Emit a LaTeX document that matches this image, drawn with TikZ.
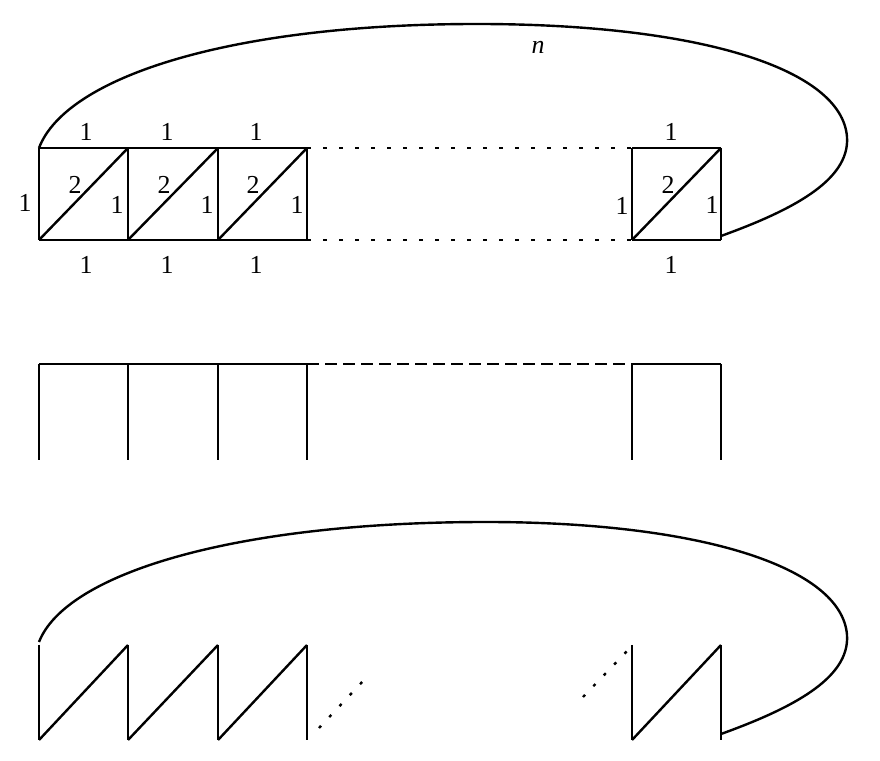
\documentclass[tikz,border=0pt]{standalone}
\usepackage{fontspec}
\setmainfont{Liberation Serif}
\begin{document}
\begin{tikzpicture}[line width=1.2bp,
  lbl/.style={inner sep=0pt,font=\fontsize{13}{15}\selectfont},
  dotrow/.style={dash pattern=on 2bp off 6bp},
  dashrow/.style={dash pattern=on 6bp off 3bp},
  dotdiag/.style={dash pattern=on 1.5bp off 6bp}]
  \useasboundingbox (0bp,0bp) rectangle (440bp,380.5bp);
  \coordinate (T0) at (19.5bp,306.5bp);
  \coordinate (T1) at (64bp,306.5bp);
  \coordinate (T2) at (109bp,306.5bp);
  \coordinate (T3) at (153.5bp,306.5bp);
  \coordinate (T4) at (316bp,306.5bp);
  \coordinate (T5) at (360.5bp,306.5bp);
  \coordinate (B0) at (19.5bp,260.5bp);
  \coordinate (B1) at (64bp,260.5bp);
  \coordinate (B2) at (109bp,260.5bp);
  \coordinate (B3) at (153.5bp,260.5bp);
  \coordinate (B4) at (316bp,260.5bp);
  \coordinate (B5) at (360.5bp,260.5bp);
  \coordinate (Bend) at (360.5bp,262.5bp);
  \coordinate (M0) at (19.5bp,198.5bp);
  \coordinate (M1) at (64bp,198.5bp);
  \coordinate (M2) at (109bp,198.5bp);
  \coordinate (M3) at (153.5bp,198.5bp);
  \coordinate (M4) at (316bp,198.5bp);
  \coordinate (M5) at (360.5bp,198.5bp);
  \coordinate (N0) at (19.5bp,150.5bp);
  \coordinate (N1) at (64bp,150.5bp);
  \coordinate (N2) at (109bp,150.5bp);
  \coordinate (N3) at (153.5bp,150.5bp);
  \coordinate (N4) at (316bp,150.5bp);
  \coordinate (N5) at (360.5bp,150.5bp);
  \coordinate (U0) at (19.5bp,58bp);
  \coordinate (U1) at (64bp,58bp);
  \coordinate (U2) at (109bp,58bp);
  \coordinate (U3) at (153.5bp,58bp);
  \coordinate (U4) at (316bp,58bp);
  \coordinate (U5) at (360.5bp,58bp);
  \coordinate (L0) at (19.5bp,10.5bp);
  \coordinate (L1) at (64bp,10.5bp);
  \coordinate (L2) at (109bp,10.5bp);
  \coordinate (L3) at (153.5bp,10.5bp);
  \coordinate (L4) at (316bp,10.5bp);
  \coordinate (L5) at (360.5bp,10.5bp);
  \coordinate (Ustart) at (19.5bp,59.5bp);
  \coordinate (Lend) at (360.5bp,13.5bp);
  \coordinate (D1) at (159.5bp,16.5bp);
  \coordinate (D2) at (182bp,40.5bp);
  \coordinate (D3) at (291.5bp,32bp);
  \coordinate (D4) at (314.5bp,56bp);
  \draw (T0) -- (T3);
  \draw (T4) -- (T5);
  \draw (B0) -- (B3);
  \draw (B4) -- (B5);
  \draw [dotrow] (T3) -- (T4);
  \draw [dotrow] (B3) -- (B4);
  \draw (T0) -- (B0);
  \draw (T1) -- (B1);
  \draw (T2) -- (B2);
  \draw (T3) -- (B3);
  \draw (T4) -- (B4);
  \draw (T5) -- (B5);
  \draw (B0) -- (T1);
  \draw (B1) -- (T2);
  \draw (B2) -- (T3);
  \draw (B4) -- (T5);
  \draw (T0) ..controls (33bp,342bp) and (115bp,368.5bp) .. (238.5bp,368.5bp) .. controls (350bp,368.5bp) and (421bp,346bp) .. (423.5bp,312bp) .. controls (425bp,290bp) and (395bp,275bp) .. (Bend);
  \node (n) at (269bp,357bp) [lbl] {\textit{n}};
  \node (t1) at (43bp,314.5bp) [lbl] {1};
  \node (t2) at (83.5bp,314.5bp) [lbl] {1};
  \node (t3) at (128bp,314.5bp) [lbl] {1};
  \node (t4) at (335.5bp,314.5bp) [lbl] {1};
  \node (b1) at (43bp,248bp) [lbl] {1};
  \node (b2) at (83.5bp,248bp) [lbl] {1};
  \node (b3) at (128bp,248bp) [lbl] {1};
  \node (b4) at (335.5bp,248bp) [lbl] {1};
  \node (s0) at (12.5bp,279bp) [lbl] {1};
  \node (s1) at (58.5bp,278bp) [lbl] {1};
  \node (s2) at (103.5bp,278bp) [lbl] {1};
  \node (s3) at (148.5bp,278bp) [lbl] {1};
  \node (s4) at (311bp,277.5bp) [lbl] {1};
  \node (s5) at (356bp,278bp) [lbl] {1};
  \node (d1) at (37.5bp,288bp) [lbl] {2};
  \node (d2) at (82bp,288bp) [lbl] {2};
  \node (d3) at (126.5bp,288bp) [lbl] {2};
  \node (d4) at (334bp,288bp) [lbl] {2};
  \draw (M0) -- (M3);
  \draw [dashrow] (M3) -- (M4);
  \draw (M4) -- (M5);
  \draw (M0) -- (N0);
  \draw (M1) -- (N1);
  \draw (M2) -- (N2);
  \draw (M3) -- (N3);
  \draw (M4) -- (N4);
  \draw (M5) -- (N5);
  \draw (U0) -- (L0);
  \draw (U1) -- (L1);
  \draw (U2) -- (L2);
  \draw (U3) -- (L3);
  \draw (U4) -- (L4);
  \draw (U5) -- (L5);
  \draw (L0) -- (U1);
  \draw (L1) -- (U2);
  \draw (L2) -- (U3);
  \draw (L4) -- (U5);
  \draw [dotdiag] (D1) -- (D2);
  \draw [dotdiag] (D3) -- (D4);
  \draw (Ustart) ..controls (33bp,94bp) and (118bp,119.5bp) .. (243bp,119.5bp) .. controls (350bp,119.5bp) and (421bp,97bp) .. (423.5bp,63bp) .. controls (425bp,41bp) and (395bp,26bp) .. (Lend);
\end{tikzpicture}
\end{document}
